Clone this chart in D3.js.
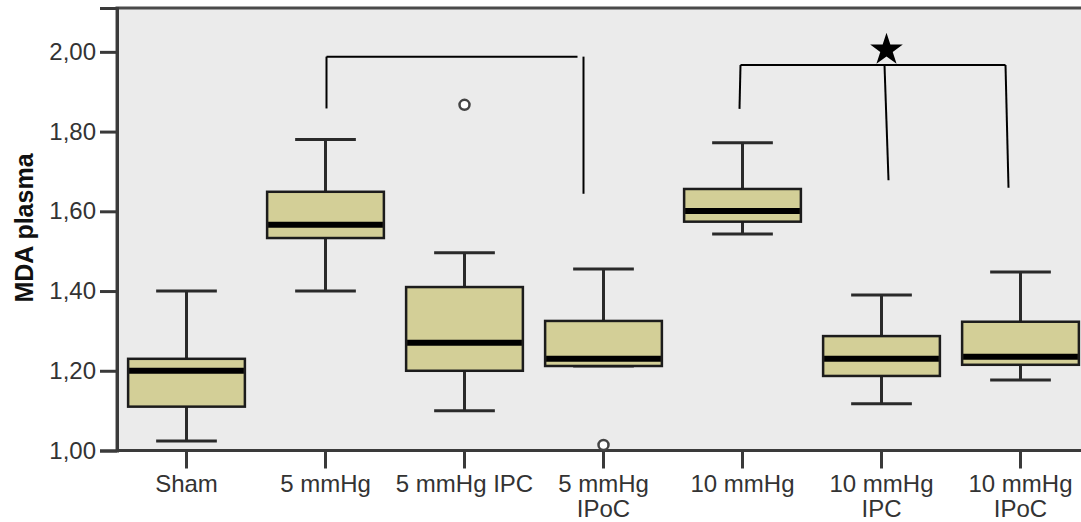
<!DOCTYPE html>
<html>
<head>
<meta charset="utf-8">
<script src="https://cdn.jsdelivr.net/npm/d3@7"></script>
<style>
  body { margin: 0; background: #ffffff; }
  svg { display: block; }
</style>
</head>
<body>
<div id="chart"></div>
<script>
// data
var categories = ["Sham", "5 mmHg", "5 mmHg IPC", "5 mmHg IPoC", "10 mmHg", "10 mmHg IPC", "10 mmHg IPoC"];
var tickLabels = [["Sham"], ["5 mmHg"], ["5 mmHg IPC"], ["5 mmHg", "IPoC"], ["10 mmHg"], ["10 mmHg", "IPC"], ["10 mmHg", "IPoC"]];
var whiskerLow  = [1.024, 1.40, 1.10, 1.212, 1.543, 1.117, 1.177];
var q1          = [1.11, 1.533, 1.20, 1.212, 1.574, 1.187, 1.215];
var median      = [1.20, 1.566, 1.27, 1.23, 1.601, 1.23, 1.235];
var q3          = [1.23, 1.649, 1.41, 1.325, 1.656, 1.287, 1.323];
var whiskerHigh = [1.40, 1.78, 1.496, 1.455, 1.772, 1.39, 1.448];
var outlierCats = ["5 mmHg IPC", "5 mmHg IPoC"];
var outlierVals = [1.867, 1.014];
var yTicks = [1.0, 1.2, 1.4, 1.6, 1.8, 2.0];

// significance brackets (category, value at top, value at foot, px shift)
var bracketTops = [1.988, 1.967];
var bracketLegs = [
    [["5 mmHg", 1.858, 1, 1], ["5 mmHg IPoC", 1.644, -20, -20]],
    [["10 mmHg", 1.857, -2, -3], ["10 mmHg IPC", 1.678, 3, 7], ["10 mmHg IPoC", 1.659, -15, -12]]
];
var starCat = "10 mmHg IPC";
var starVal = 2.005;

var W = 1081, H = 522;
var margin = { top: 8, left: 117 };
var step = 139;

var svg = d3.select("#chart")
    .append("svg")
    .attr("width", W)
    .attr("height", H);

var x = d3.scaleBand()
    .domain(categories)
    .range([margin.left, margin.left + step * categories.length])
    .padding(0);

var y = d3.scaleLinear()
    .domain([1, 2.11])
    .range([450.5, margin.top]);

var boxW = x.bandwidth() * 0.84;
var capW = boxW * 0.52;
function cx(c) { return x(c) + x.bandwidth() / 2; }

// plot background
svg.append("rect")
    .attr("x", margin.left)
    .attr("y", y(2.11))
    .attr("width", W - margin.left + 20)
    .attr("height", y(1) - y(2.11))
    .attr("fill", "#ebebeb")
    .attr("stroke", "#4a4a4a")
    .attr("stroke-width", 3);

var fontFam = "'Liberation Sans', Arial, sans-serif";

// Y axis
var yAxis = svg.append("g")
    .attr("transform", "translate(" + margin.left + ",0)")
    .call(d3.axisLeft(y).tickValues(yTicks).tickSize(17).tickPadding(4)
        .tickFormat(function (d) { return d3.format(".2f")(d).replace(".", ","); }));
yAxis.select(".domain").attr("stroke", "#3a3a3a").attr("stroke-width", 3);
yAxis.selectAll(".tick line").attr("stroke", "#3a3a3a").attr("stroke-width", 3);
yAxis.selectAll("text")
    .attr("font-family", fontFam)
    .attr("font-size", "24px")
    .attr("fill", "#333");

// X axis
var xAxis = svg.append("g")
    .attr("transform", "translate(0," + y(1) + ")")
    .call(d3.axisBottom(x).tickSize(18).tickFormat(""));
xAxis.select(".domain").attr("stroke", "#3a3a3a").attr("stroke-width", 3)
    .attr("d", "M" + margin.left + ",0H" + (W + 20));
xAxis.selectAll(".tick line").attr("stroke", "#3a3a3a").attr("stroke-width", 3);

var xl = svg.append("g").selectAll("text")
    .data(categories)
    .enter()
    .append("text")
    .attr("x", function (d) { return cx(d); })
    .attr("y", 492)
    .attr("text-anchor", "middle")
    .attr("font-family", fontFam)
    .attr("font-size", "24px")
    .attr("fill", "#333");
xl.each(function (d, i) {
    var t = d3.select(this);
    tickLabels[i].forEach(function (line, j) {
        t.append("tspan")
            .attr("x", cx(d))
            .attr("dy", j === 0 ? 0 : 25)
            .text(line);
    });
});

// Y title
svg.append("text")
    .attr("transform", "translate(33," + 228 + ") rotate(-90)")
    .attr("text-anchor", "middle")
    .attr("font-family", fontFam)
    .attr("font-weight", "bold")
    .attr("font-size", "25px")
    .attr("fill", "#111")
    .text("MDA plasma");

// boxes
var boxes = svg.append("g")
    .selectAll("g")
    .data(categories)
    .enter()
    .append("g");

// whisker stems
boxes.append("line")
    .attr("x1", function (d) { return cx(d); })
    .attr("x2", function (d) { return cx(d); })
    .attr("y1", function (d, i) { return y(whiskerLow[i]); })
    .attr("y2", function (d, i) { return y(whiskerHigh[i]); })
    .attr("stroke", "#2a2a2a")
    .attr("stroke-width", 3);

// caps
[whiskerLow, whiskerHigh].forEach(function (arr) {
    boxes.append("line")
        .attr("x1", function (d) { return cx(d) - capW / 2; })
        .attr("x2", function (d) { return cx(d) + capW / 2; })
        .attr("y1", function (d, i) { return y(arr[i]); })
        .attr("y2", function (d, i) { return y(arr[i]); })
        .attr("stroke", "#2a2a2a")
        .attr("stroke-width", 3);
});

boxes.append("rect")
    .attr("x", function (d) { return cx(d) - boxW / 2; })
    .attr("y", function (d, i) { return y(q3[i]); })
    .attr("width", boxW)
    .attr("height", function (d, i) { return y(q1[i]) - y(q3[i]); })
    .attr("fill", "#d3cf97")
    .attr("stroke", "#1c1c1c")
    .attr("stroke-width", 2.5);

boxes.append("line")
    .attr("x1", function (d) { return cx(d) - boxW / 2 + 1; })
    .attr("x2", function (d) { return cx(d) + boxW / 2 - 1; })
    .attr("y1", function (d, i) { return y(median[i]); })
    .attr("y2", function (d, i) { return y(median[i]); })
    .attr("stroke", "#000")
    .attr("stroke-width", 6);

// outliers
svg.append("g").selectAll("circle")
    .data(outlierVals)
    .enter()
    .append("circle")
    .attr("cx", function (d, i) { return cx(outlierCats[i]); })
    .attr("cy", function (d) { return y(d); })
    .attr("r", 5)
    .attr("fill", "#ffffff")
    .attr("stroke", "#444")
    .attr("stroke-width", 2.5);

// brackets
var br = svg.append("g");
bracketLegs.forEach(function (legs, b) {
    var first = legs[0], last = legs[legs.length - 1];
    br.append("line")
        .attr("x1", cx(first[0]) + first[2])
        .attr("x2", cx(last[0]) + last[2] - (b === 0 ? 6 : 0))
        .attr("y1", y(bracketTops[b]))
        .attr("y2", y(bracketTops[b]))
        .attr("stroke", "#000")
        .attr("stroke-width", 2);
    legs.forEach(function (l) {
        br.append("line")
            .attr("x1", cx(l[0]) + l[2])
            .attr("x2", cx(l[0]) + l[3])
            .attr("y1", y(bracketTops[b]))
            .attr("y2", y(l[1]))
            .attr("stroke", "#000")
            .attr("stroke-width", 2);
    });
});

svg.append("path")
    .attr("d", d3.symbol().type(d3.symbolStar).size(330)())
    .attr("transform", "translate(" + (cx(starCat) + 5) + "," + y(starVal) + ")")
    .attr("fill", "#000");
</script>
</body>
</html>
